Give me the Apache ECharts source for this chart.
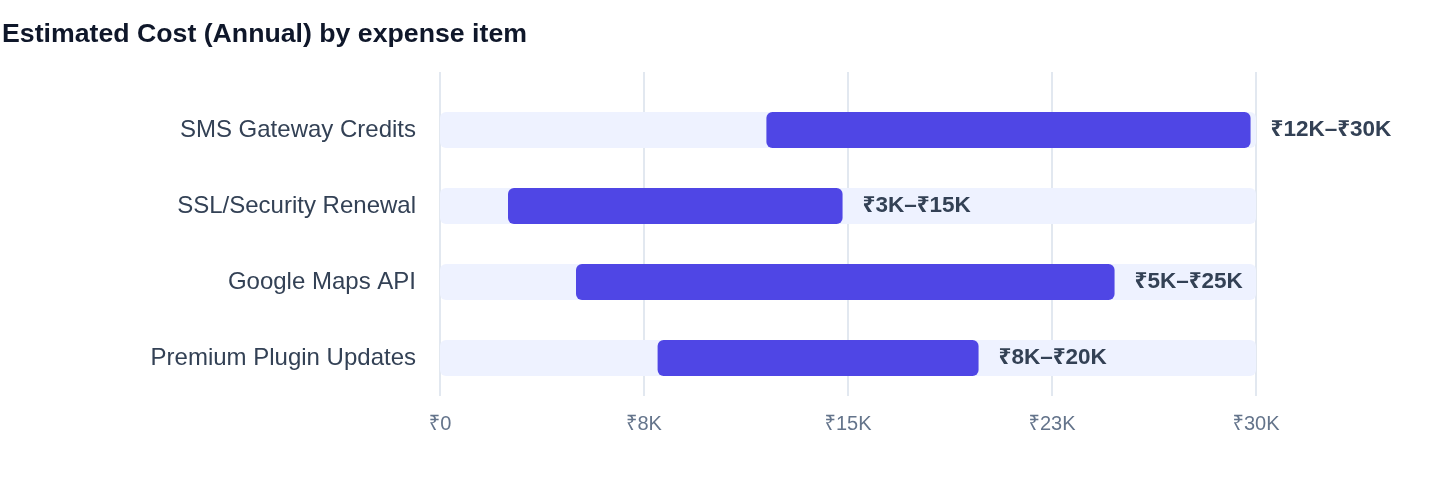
<!DOCTYPE html>
<html>
<head>
<meta charset="utf-8">
<script src="https://cdn.jsdelivr.net/npm/echarts@6/dist/echarts.min.js"></script>
<style>
  html, body { margin: 0; padding: 0; background: #fff; }
  #chart { width: 1440px; height: 484px; }
</style>
</head>
<body>
<div id="chart"></div>
<script>
// Chart data
const categories = ['SMS Gateway Credits', 'SSL/Security Renewal', 'Google Maps API', 'Premium Plugin Updates'];
const lows = [12000, 2500, 5000, 8000];
const highs = [29800, 14800, 24800, 19800];
const xTicks = [0, 7500, 15000, 22500, 30000];

const FONT = '"Liberation Sans", "Noto Sans", sans-serif';

// Format rupee amounts in thousands
function fmtK(v) {
    if (v === 0) return '₹0';
    return '₹' + Math.round(v / 1000) + 'K';
}

const chart = echarts.init(document.getElementById('chart'));

const option = {
    backgroundColor: '#fff',
    animation: false,
    title: {
        text: 'Estimated Cost (Annual) by expense item',
        left: -3,
        top: 16,
        textStyle: { fontFamily: FONT, fontSize: 26.7, fontWeight: 'bold', color: '#0f172a' }
    },
    grid: [
        { left: 440, right: 184, top: 92, bottom: 88 },
        { left: 440, right: 184, top: 72, height: 20 }
    ],
    xAxis: [{
        type: 'value',
        min: xTicks[0],
        max: xTicks[xTicks.length - 1],
        interval: xTicks[1] - xTicks[0],
        axisLine: { show: false },
        axisTick: { show: false },
        splitLine: { lineStyle: { color: '#e2e8f0', width: 2 } },
        axisLabel: {
            formatter: fmtK,
            margin: 18,
            fontFamily: FONT,
            fontSize: 20,
            color: '#64748b'
        }
    }, {
        // extends the gridlines above the first bar
        type: 'value',
        gridIndex: 1,
        min: xTicks[0],
        max: xTicks[xTicks.length - 1],
        interval: xTicks[1] - xTicks[0],
        axisLine: { show: false },
        axisTick: { show: false },
        axisLabel: { show: false },
        splitLine: { lineStyle: { color: '#e2e8f0', width: 2 } }
    }],
    yAxis: [{
        type: 'category',
        data: categories,
        inverse: true,
        axisLine: { show: false },
        axisTick: { show: false },
        axisLabel: {
            margin: 24,
            fontFamily: FONT,
            fontSize: 24,
            color: '#334155'
        }
    }, {
        type: 'category',
        gridIndex: 1,
        data: [''],
        show: false
    }],
    series: [{
        type: 'bar',
        stack: 'range',
        barWidth: 36,
        data: lows,
        itemStyle: { color: 'transparent' },
        showBackground: true,
        backgroundStyle: { color: '#eef2ff', borderRadius: 6 },
        silent: true
    }, {
        type: 'bar',
        stack: 'range',
        barWidth: 36,
        data: highs.map((h, i) => h - lows[i]),
        itemStyle: { color: '#4f46e5', borderRadius: 6 },
        label: {
            show: true,
            position: 'right',
            distance: 20,
            fontFamily: FONT,
            fontSize: 22.5,
            fontWeight: 'bold',
            color: '#334155',
            formatter: p => fmtK(lows[p.dataIndex]) + '–' + fmtK(highs[p.dataIndex])
        }
    }]
};

chart.setOption(option);

window.addEventListener('resize', () => chart.resize());
</script>
</body>
</html>
